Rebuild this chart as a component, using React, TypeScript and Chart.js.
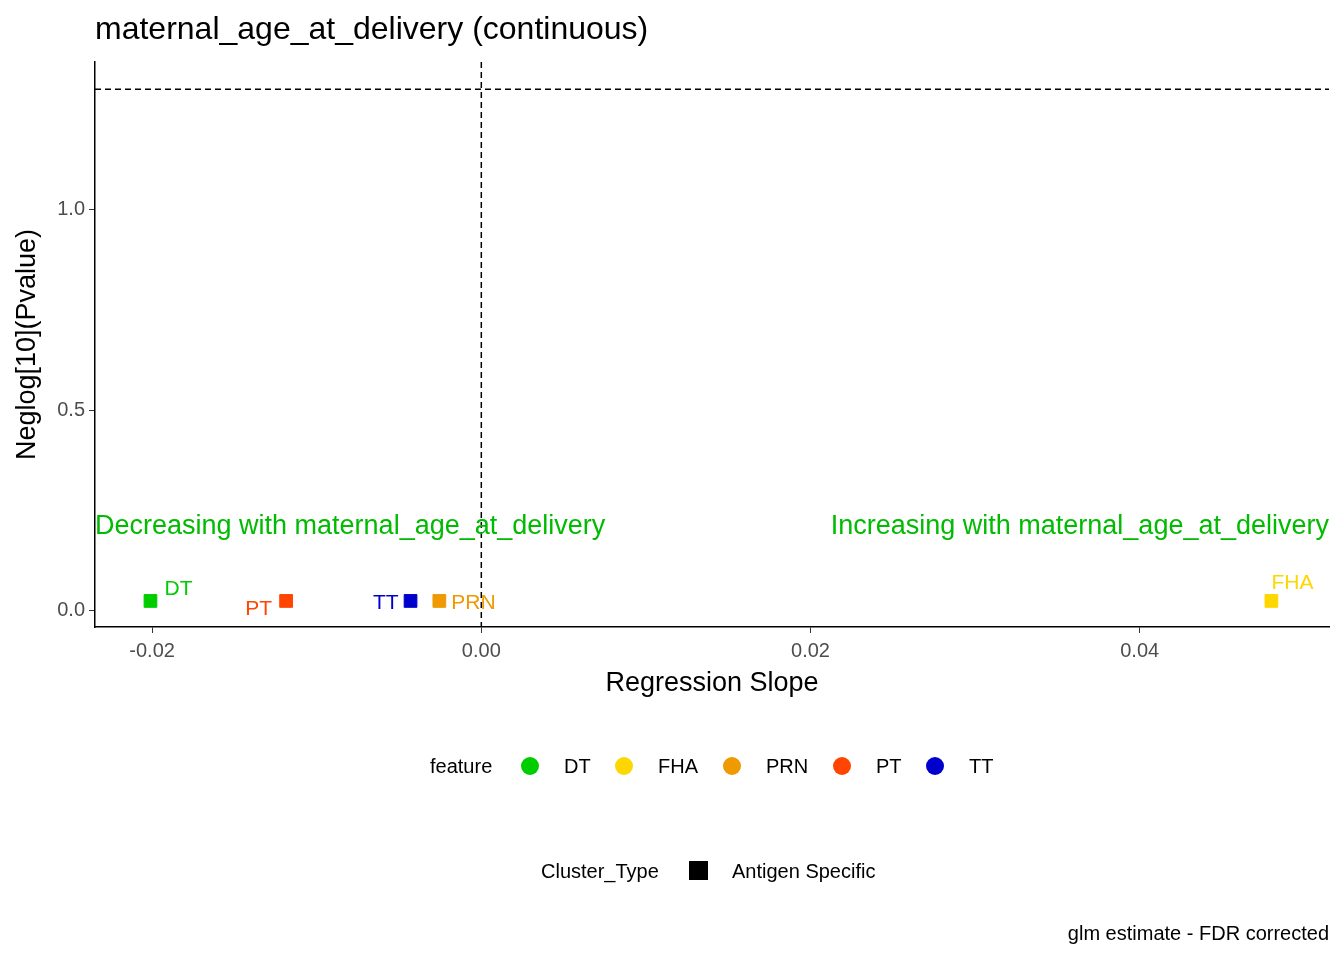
import React, { useEffect, useRef } from "react";
import { Chart, registerables } from "chart.js";
Chart.register(...registerables);

const features = ["DT", "FHA", "PRN", "PT", "TT"];
const colors = ["#00CD00", "#FFD700", "#EE9A00", "#FF4500", "#0000CD"];
const slopes = [-0.0201, 0.048, -0.00255, -0.01186, -0.0043];
const neglogP = [0.025, 0.025, 0.025, 0.025, 0.025];
const labelOffsets: [number, number, string][] = [
  [14, -12, "left"], [0, -18, "left"], [12, 2, "left"], [-14, 8, "right"], [-12, 2, "right"],
];
const xTicks = [-0.02, 0, 0.02, 0.04];
const yTicks = [0, 0.5, 1.0];
const sigLine = 1.30103;
const FONT = "Arial, 'Liberation Sans', sans-serif";

export default function App() {
  const ref = useRef<HTMLCanvasElement>(null);
  useEffect(() => {
    document.body.style.margin = "0";
    const deco = {
      id: "deco",
      afterDatasetsDraw(chart: any) {
        const { ctx, scales, chartArea } = chart;
        const x = scales.x, y = scales.y;
        ctx.save();
        ctx.setLineDash([6, 4]);
        ctx.strokeStyle = "#000";
        ctx.lineWidth = 1.5;
        ctx.beginPath();
        ctx.moveTo(chartArea.left, y.getPixelForValue(sigLine));
        ctx.lineTo(chartArea.right, y.getPixelForValue(sigLine));
        ctx.moveTo(x.getPixelForValue(0), chartArea.top);
        ctx.lineTo(x.getPixelForValue(0), chartArea.bottom);
        ctx.stroke();
        ctx.setLineDash([]);
        ctx.textBaseline = "middle";
        features.forEach((f, i) => {
          const [dx, dy, al] = labelOffsets[i];
          ctx.fillStyle = colors[i];
          ctx.font = `21px ${FONT}`;
          ctx.textAlign = al;
          ctx.fillText(f, x.getPixelForValue(slopes[i]) + dx, y.getPixelForValue(neglogP[i]) + dy);
        });
        ctx.fillStyle = "#00BB00";
        ctx.font = `27px ${FONT}`;
        const ay = y.getPixelForValue(0.21);
        ctx.textAlign = "left";
        ctx.fillText("Decreasing with maternal_age_at_delivery", chartArea.left, ay);
        ctx.textAlign = "right";
        ctx.fillText("Increasing with maternal_age_at_delivery", chartArea.right, ay);
        // titles
        ctx.fillStyle = "#000";
        ctx.textAlign = "left";
        ctx.font = `32px ${FONT}`;
        ctx.fillText("maternal_age_at_delivery (continuous)", 95, 30);
        ctx.textAlign = "center";
        ctx.font = `27px ${FONT}`;
        ctx.fillText("Regression Slope", (chartArea.left + chartArea.right) / 2, 684);
        ctx.save();
        ctx.translate(28, (chartArea.top + chartArea.bottom) / 2);
        ctx.rotate(-Math.PI / 2);
        ctx.fillText("Neglog[10](Pvalue)", 0, 0);
        ctx.restore();
        // legends
        ctx.font = `20px ${FONT}`;
        ctx.textAlign = "left";
        ctx.fillText("feature", 430, 767);
        const lx = [530, 624, 732, 842, 935];
        features.forEach((f, i) => {
          ctx.fillStyle = colors[i];
          ctx.beginPath();
          ctx.arc(lx[i], 766, 9, 0, Math.PI * 2);
          ctx.fill();
          ctx.fillStyle = "#000";
          ctx.fillText(f, lx[i] + 34, 767);
        });
        ctx.fillText("Cluster_Type", 541, 872);
        ctx.fillRect(689, 861, 19, 19);
        ctx.fillText("Antigen Specific", 732, 872);
        ctx.textAlign = "right";
        ctx.fillText("glm estimate - FDR corrected", 1329, 934);
        ctx.restore();
      },
    };
    const chart = new Chart(ref.current!, {
      type: "scatter",
      data: {
        datasets: features.map((f, i) => ({
          label: f,
          data: [{ x: slopes[i], y: neglogP[i] }],
          backgroundColor: colors[i],
          borderColor: colors[i],
          pointStyle: "rect",
          pointRadius: 9,
        })),
      },
      options: {
        animation: false,
        responsive: false,
        layout: { padding: { top: 62, right: 15, bottom: 0, left: 0 } },
        plugins: { legend: { display: false }, tooltip: { enabled: false } },
        scales: {
          x: {
            type: "linear", min: -0.02347, max: 0.0515,
            afterBuildTicks: (s: any) => { s.ticks = xTicks.map((v) => ({ value: v })); },
            ticks: { color: "#4d4d4d", font: { size: 20, family: FONT }, callback: (v: any) => Number(v).toFixed(2), padding: 6 },
            grid: { drawOnChartArea: false, color: "#333", tickLength: 6 },
            border: { color: "#000", width: 1.5 },
            afterFit: (s: any) => { s.height = 333; },
          },
          y: {
            type: "linear", min: -0.04, max: 1.369,
            afterBuildTicks: (s: any) => { s.ticks = yTicks.map((v) => ({ value: v })); },
            ticks: { color: "#4d4d4d", font: { size: 20, family: FONT }, callback: (v: any) => Number(v).toFixed(1), padding: 4 },
            grid: { drawOnChartArea: false, color: "#333", tickLength: 6 },
            border: { color: "#000", width: 1.5 },
            afterFit: (s: any) => { s.width = 95; },
          },
        },
      },
      plugins: [deco],
    } as any);
    return () => chart.destroy();
  }, []);
  return <canvas ref={ref} width={1344} height={960} style={{ display: "block" }} />;
}
